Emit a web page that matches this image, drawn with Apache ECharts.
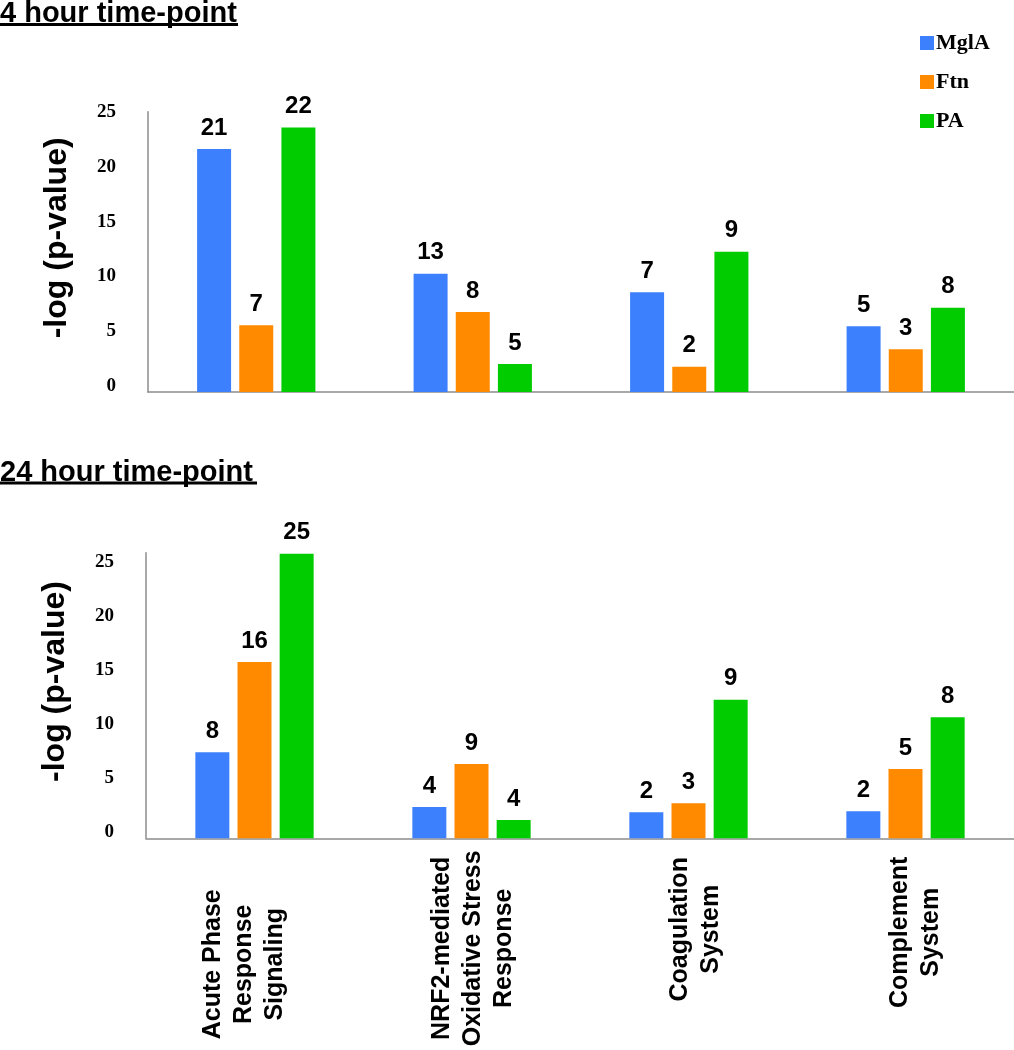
<!DOCTYPE html>
<html>
<head>
<meta charset="utf-8">
<script src="https://cdn.jsdelivr.net/npm/echarts@6/dist/echarts.min.js"></script>
<style>
html,body{margin:0;padding:0;background:#fff;}
#chart{width:1014px;height:1050px;}
</style>
</head>
<body>
<div id="chart"></div>
<script>
// ---- data ----
const categories = ['Acute Phase\nResponse\nSignaling', 'NRF2-mediated\nOxidative Stress\nResponse', 'Coagulation\nSystem', 'Complement\nSystem'];
const seriesNames = ['MglA', 'Ftn', 'PA'];
const yTicks = [0, 5, 10, 15, 20, 25];

// 4 hour: bar heights (-log p-value) and gene-count labels
const h4_MglA = [22.2, 10.8, 9.1, 6.0];
const h4_Ftn  = [6.1, 7.3, 2.3, 3.9];
const h4_PA   = [24.15, 2.55, 12.8, 7.7];
const h4_MglA_lbl = [21, 13, 7, 5];
const h4_Ftn_lbl  = [7, 8, 2, 3];
const h4_PA_lbl   = [22, 5, 9, 8];

// 24 hour
const h24_MglA = [7.95, 2.9, 2.4, 2.5];
const h24_Ftn  = [16.3, 6.87, 3.23, 6.4];
const h24_PA   = [26.3, 1.7, 12.8, 11.2];
const h24_MglA_lbl = [8, 4, 2, 2];
const h24_Ftn_lbl  = [16, 9, 3, 5];
const h24_PA_lbl   = [25, 4, 9, 8];

const titles = ['4 hour time-point', '24 hour time-point'];

// ---- style ----
const colors = {MglA: '#3d80fd', Ftn: '#ff8a00', PA: '#00cc00'};
const sans = '"Liberation Sans", Arial, sans-serif';
const serif = '"Liberation Serif", "Times New Roman", serif';
// style-only layout of the rotated x labels
const labelDown = [70, 38, 0, 6];      // push away from axis (px*2)
const labelNudge = [-10, 2, 7, 10];    // screen-x nudge, px

const nudgeRich = {};
labelNudge.forEach(d => { const h = Math.abs(d) * 2; nudgeRich['s' + h] = {lineHeight: h, fontSize: 1}; });

function xLabelFormatter(value, index) {
  const d = labelNudge[index] || 0;
  if (!d) return value;
  const tok = '{s' + (Math.abs(d) * 2) + '| }';
  return d < 0 ? value + '\n' + tok : tok + '\n' + value;
}

const chart = echarts.init(document.getElementById('chart'), null, {renderer: 'canvas'});

function yAxisDef(gridIndex, max) {
  return {
    type: 'value', gridIndex: gridIndex, min: 0, max: max, interval: 5,
    name: '-log (p-value)', nameLocation: 'middle', nameGap: 75,
    nameTextStyle: {fontFamily: sans, fontWeight: 'bold', fontSize: 32, color: '#000', padding: [0, 0, 0, 28]},
    axisLine: {show: true, lineStyle: {color: '#8c8c8c', width: 1.5}},
    axisTick: {show: false},
    splitLine: {show: false},
    axisLabel: {
      fontFamily: serif, fontWeight: 'bold', fontSize: 19, color: '#000', margin: 32,
      showMaxLabel: false, verticalAlign: 'bottom', lineHeight: 12,
      formatter: v => (yTicks.indexOf(v) >= 0 ? String(v) : '')
    }
  };
}

function xAxisDef(gridIndex, showLabels) {
  return {
    type: 'category', gridIndex: gridIndex,
    data: categories.map((c, i) => showLabels ? {value: c, textStyle: {align: 'center', verticalAlign: 'middle', padding: [0, labelDown[i], 0, 0]}} : c),
    axisLine: {show: true, lineStyle: {color: '#8c8c8c', width: 1.5}},
    axisTick: {show: false},
    axisLabel: showLabels ? {
      show: true, interval: 0, rotate: 90, align: 'center', verticalAlign: 'middle',
      margin: 91, fontFamily: sans, fontWeight: 'bold', fontSize: 25, lineHeight: 31, color: '#000',
      formatter: xLabelFormatter, rich: nudgeRich
    } : {show: false}
  };
}

function barSeries(name, xi, values, labels) {
  return {
    name: name, type: 'bar', xAxisIndex: xi, yAxisIndex: xi,
    data: values, barWidth: 34, barGap: '24%',
    itemStyle: {color: colors[name]},
    label: {
      show: true, position: 'top', distance: 9,
      fontFamily: sans, fontWeight: 'bold', fontSize: 24, color: '#000',
      formatter: p => String(labels[p.dataIndex])
    }
  };
}

const titleStyle = {fontFamily: sans, fontWeight: 'bold', fontSize: 29, color: '#000'};

const option = {
  backgroundColor: '#fff',
  animation: false,
  title: [
    {text: titles[0], left: 0, top: -1, padding: 0, textStyle: titleStyle},
    {text: titles[1], left: 0, top: 458, padding: 0, textStyle: titleStyle}
  ],
  graphic: [
    {type: 'line', shape: {x1: 0, y1: 24.5, x2: 238, y2: 24.5}, style: {stroke: '#000', lineWidth: 3}},
    {type: 'line', shape: {x1: 0, y1: 483, x2: 257, y2: 483}, style: {stroke: '#000', lineWidth: 3}}
  ],
  legend: {
    data: seriesNames, orient: 'vertical', left: 915, top: 27,
    icon: 'rect', itemWidth: 14, itemHeight: 14, itemGap: 17,
    textStyle: {fontFamily: serif, fontWeight: 'bold', fontSize: 22, color: '#000', padding: [0, 0, 0, -3]}
  },
  grid: [
    {left: 148, right: 0, top: 111.7, bottom: 658, outerBoundsMode: 'none'},
    {left: 146, right: 0, top: 552.7, bottom: 211.7, outerBoundsMode: 'none'}
  ],
  xAxis: [xAxisDef(0, false), xAxisDef(1, true)],
  yAxis: [yAxisDef(0, 25.6), yAxisDef(1, 26.4)],
  series: [
    barSeries('MglA', 0, h4_MglA, h4_MglA_lbl),
    barSeries('Ftn', 0, h4_Ftn, h4_Ftn_lbl),
    barSeries('PA', 0, h4_PA, h4_PA_lbl),
    barSeries('MglA', 1, h24_MglA, h24_MglA_lbl),
    barSeries('Ftn', 1, h24_Ftn, h24_Ftn_lbl),
    barSeries('PA', 1, h24_PA, h24_PA_lbl)
  ]
};
chart.setOption(option);
</script>
</body>
</html>
